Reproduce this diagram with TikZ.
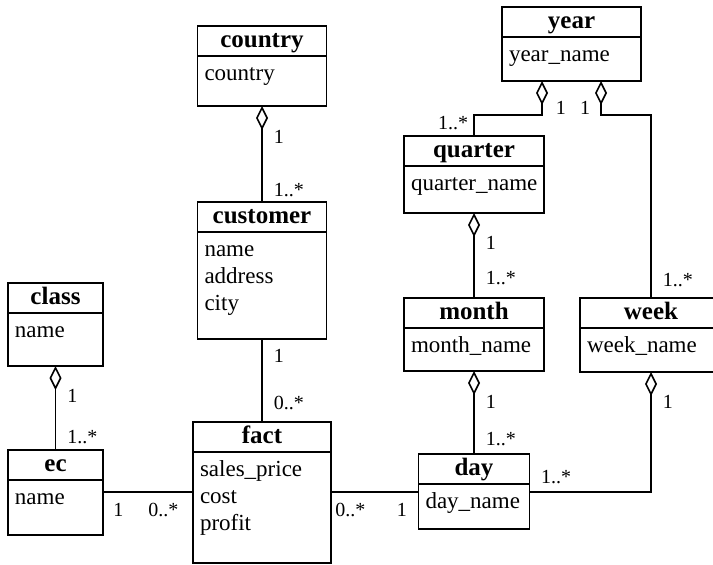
\documentclass[tikz,border=0pt]{standalone}
\usepackage{fontspec}
\setmainfont{Liberation Serif}
\usetikzlibrary{positioning,arrows.meta}

\begin{document}
\begin{tikzpicture}[x=1pt,y=-1pt,line width=1.6pt,
   hdr/.style={draw,anchor=north west,minimum width=#1,minimum height=30pt,inner sep=0pt,
     outer sep=0pt,text height=18pt,text depth=6pt,font=\fontsize{25}{28}\selectfont\bfseries},
   attr/.style 2 args={draw,text width=#1,text height=24pt,text depth=#2,inner xsep=7pt,
     inner ysep=0pt,outer sep=0pt,align=left,font=\fontsize{23}{27}\selectfont,
     execute at begin node={\hyphenpenalty=10000}},
   agg/.style={{Diamond[open,length=24pt,width=12pt]}-},
   mult/.style={inner sep=0pt,font=\fontsize{20}{22}\selectfont},
   mr/.style={mult,anchor=west,xshift=11pt},
   mb/.style={mult,yshift=-18pt}]
  \path[use as bounding box,clip] (0,0) rectangle (713,565);
  \node[hdr=129pt] (country) at (197.5,26) {country};
  \node[attr={115pt}{26pt},below=0pt of country] (country-a) {country};
  \node[hdr=129pt] (customer) at (197.5,202) {customer};
  \node[attr={115pt}{83pt},below=0pt of customer] (customer-a) {name\\address\\city};
  \node[hdr=95pt] (class) at (8,283) {class};
  \node[attr={81pt}{29pt},below=0pt of class] (class-a) {name};
  \node[hdr=95pt] (ec) at (8,450) {ec};
  \node[attr={81pt}{31pt},below=0pt of ec] (ec-a) {name};
  \node[hdr=138pt] (fact) at (193,422) {fact};
  \node[attr={124pt}{87pt},below=0pt of fact] (fact-a) {sales\_price\\cost\\profit};
  \node[hdr=139pt] (year) at (502,7) {year};
  \node[attr={125pt}{20pt},below=0pt of year] (year-a) {year\_name};
  \node[hdr=140pt] (quarter) at (404,136) {quarter};
  \node[attr={126pt}{23pt},below=0pt of quarter] (quarter-a) {quarter\_name};
  \node[hdr=140pt] (month) at (404,298) {month};
  \node[attr={126pt}{19pt},below=0pt of month] (month-a) {month\_name};
  \node[hdr=142pt] (week) at (580,298) {week};
  \node[attr={128pt}{20pt},below=0pt of week] (week-a) {week\_name};
  \node[hdr=111pt] (day) at (418.5,454) {day};
  \node[attr={97pt}{21pt},below=0pt of day] (day-a) {day\_name};
  \coordinate (rail) at (0,492);

  \path
   (country-a) edge[agg] node[mr,pos=.32]{1} node[mr,pos=.875]{1..*} (customer)
   (customer-a) edge node[mr,pos=.2]{1} node[mr,pos=.77]{0..*} (fact)
   (class-a) edge[agg] node[mr,pos=.35]{1} node[mr,pos=.85]{1..*} (ec)
   (quarter-a) edge[agg] node[mr,pos=.35]{1} node[mr,pos=.76]{1..*} (month)
   (month-a) edge[agg] node[mr,pos=.37]{1} node[mr,pos=.82]{1..*} (day);
  \draw[agg] ([xshift=-29.5pt]year-a.south) -- node[mult,pos=.8,anchor=west,xshift=13pt]{1} ++(0,34)
     -| node[mult,pos=.5,anchor=north east,xshift=-5pt]{1..*} (quarter.north);
  \draw[agg] ([xshift=29.5pt]year-a.south) -- node[mult,pos=.8,anchor=east,xshift=-10pt]{1} ++(0,34)
     -| node[mr,pos=.95]{1..*} (week.north);
  \draw[agg] (week-a.south) |- node[mr,pos=.125]{1} node[mult,pos=.89,yshift=15pt]{1..*} (day-a.east |- rail);
  \draw (ec-a.east |- rail) -- node[mb,pos=.17]{1} node[mb,pos=.67]{0..*} (fact-a.west |- rail);
  \draw (fact-a.east |- rail) -- node[mb,pos=.22]{0..*} node[mb,pos=.81]{1} (day-a.west |- rail);
\end{tikzpicture}
\end{document}
